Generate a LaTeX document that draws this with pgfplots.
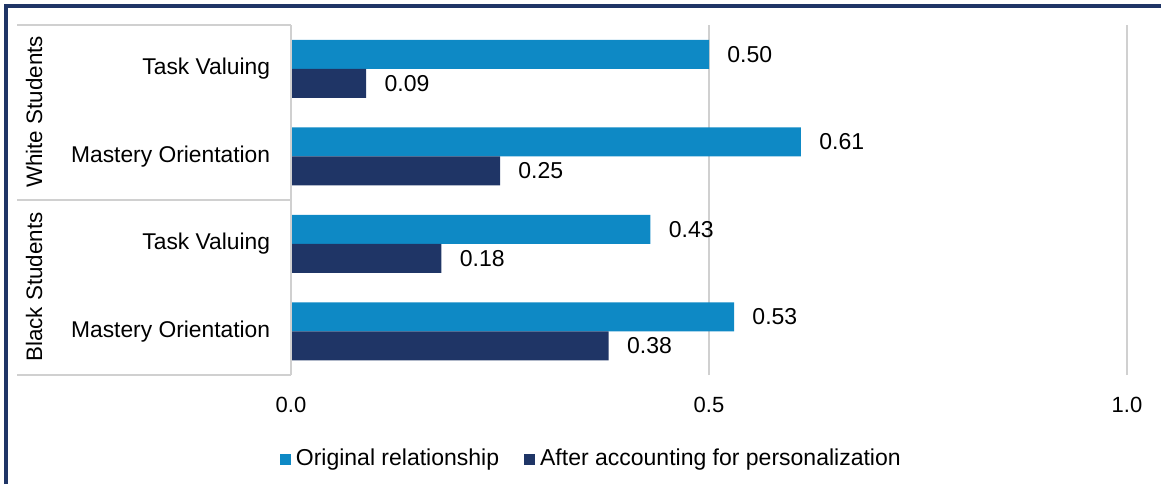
\documentclass[border=0pt]{standalone}
\usepackage{pgfplots}
\pgfplotsset{compat=1.18}
\usepackage{fontspec}
\setmainfont{Liberation Sans}
\definecolor{lblue}{HTML}{0E89C5}
\definecolor{navy}{HTML}{1F3566}
\definecolor{gridgray}{HTML}{D0D0D0}
\begin{document}
\begin{tikzpicture}
\useasboundingbox (0,0) rectangle (580.5pt,-242pt);
\draw[navy, line width=1.6pt] (3pt,-242pt) -- (3pt,-3pt) -- (580.5pt,-3pt);
\begin{axis}[
  at={(145.5pt,-187.5pt)}, anchor=south west,
  scale only axis, width=418pt, height=175pt,
  xbar, bar width=14.5pt,
  xmin=0, xmax=1, ymin=-0.5, ymax=3.5,
  xtick={0,0.5,1}, xticklabels={0.0,0.5,1.0},
  ytick={0,1,2,3},
  yticklabels={Mastery Orientation,Task Valuing,Mastery Orientation,Task Valuing},
  axis line style={draw=none},
  major tick style={draw=none},
  xmajorgrids, grid style={gridgray, line width=1pt},
  tick label style={font=\fontsize{11}{13}\selectfont},
  xticklabel style={anchor=base, yshift=-18.5pt},
  yticklabel style={anchor=east, inner xsep=0pt, xshift=-6pt, font=\fontsize{11.4}{13}\selectfont},
  /pgf/number format/assume math mode=true,
  nodes near coords,
  nodes near coords style={font=\fontsize{11.5}{13}\selectfont, anchor=west, inner xsep=0pt, xshift=9pt,
    /pgf/number format/.cd, fixed, fixed zerofill, precision=2, assume math mode=true},
  legend style={draw=none, fill=none, at={(0.361,-0.24)}, anchor=center,
    font=\fontsize{11.5}{13}\selectfont, inner sep=0pt,
    nodes={inner xsep=2.5pt, inner ysep=0pt}},
  legend columns=2,
  legend cell align=left,
  /tikz/every even column/.append style={column sep=10pt},
  legend image code/.code={\fill[#1] (0pt,-2.75pt) rectangle (5.5pt,2.75pt);},
]
\addplot[fill=lblue, draw=none, bar shift=7.25pt] coordinates {(0.53,0) (0.43,1) (0.61,2) (0.50,3)};
\addplot[fill=navy, draw=none, bar shift=-7.25pt] coordinates {(0.38,0) (0.18,1) (0.25,2) (0.09,3)};
\legend{Original relationship, After accounting for personalization}
\end{axis}
\draw[gridgray, line width=0.8pt] (145.5pt,-12.5pt) -- (145.5pt,-187.5pt);
\foreach \yy in {-12.5,-100,-187.5} \draw[gridgray, line width=0.8pt] (8.5pt,\yy pt) -- (145.5pt,\yy pt);
\node[rotate=90, font=\fontsize{11.2}{13}\selectfont] at (17pt,-56pt) {White Students};
\node[rotate=90, font=\fontsize{11.2}{13}\selectfont] at (17pt,-143.5pt) {Black Students};
\end{tikzpicture}
\end{document}
